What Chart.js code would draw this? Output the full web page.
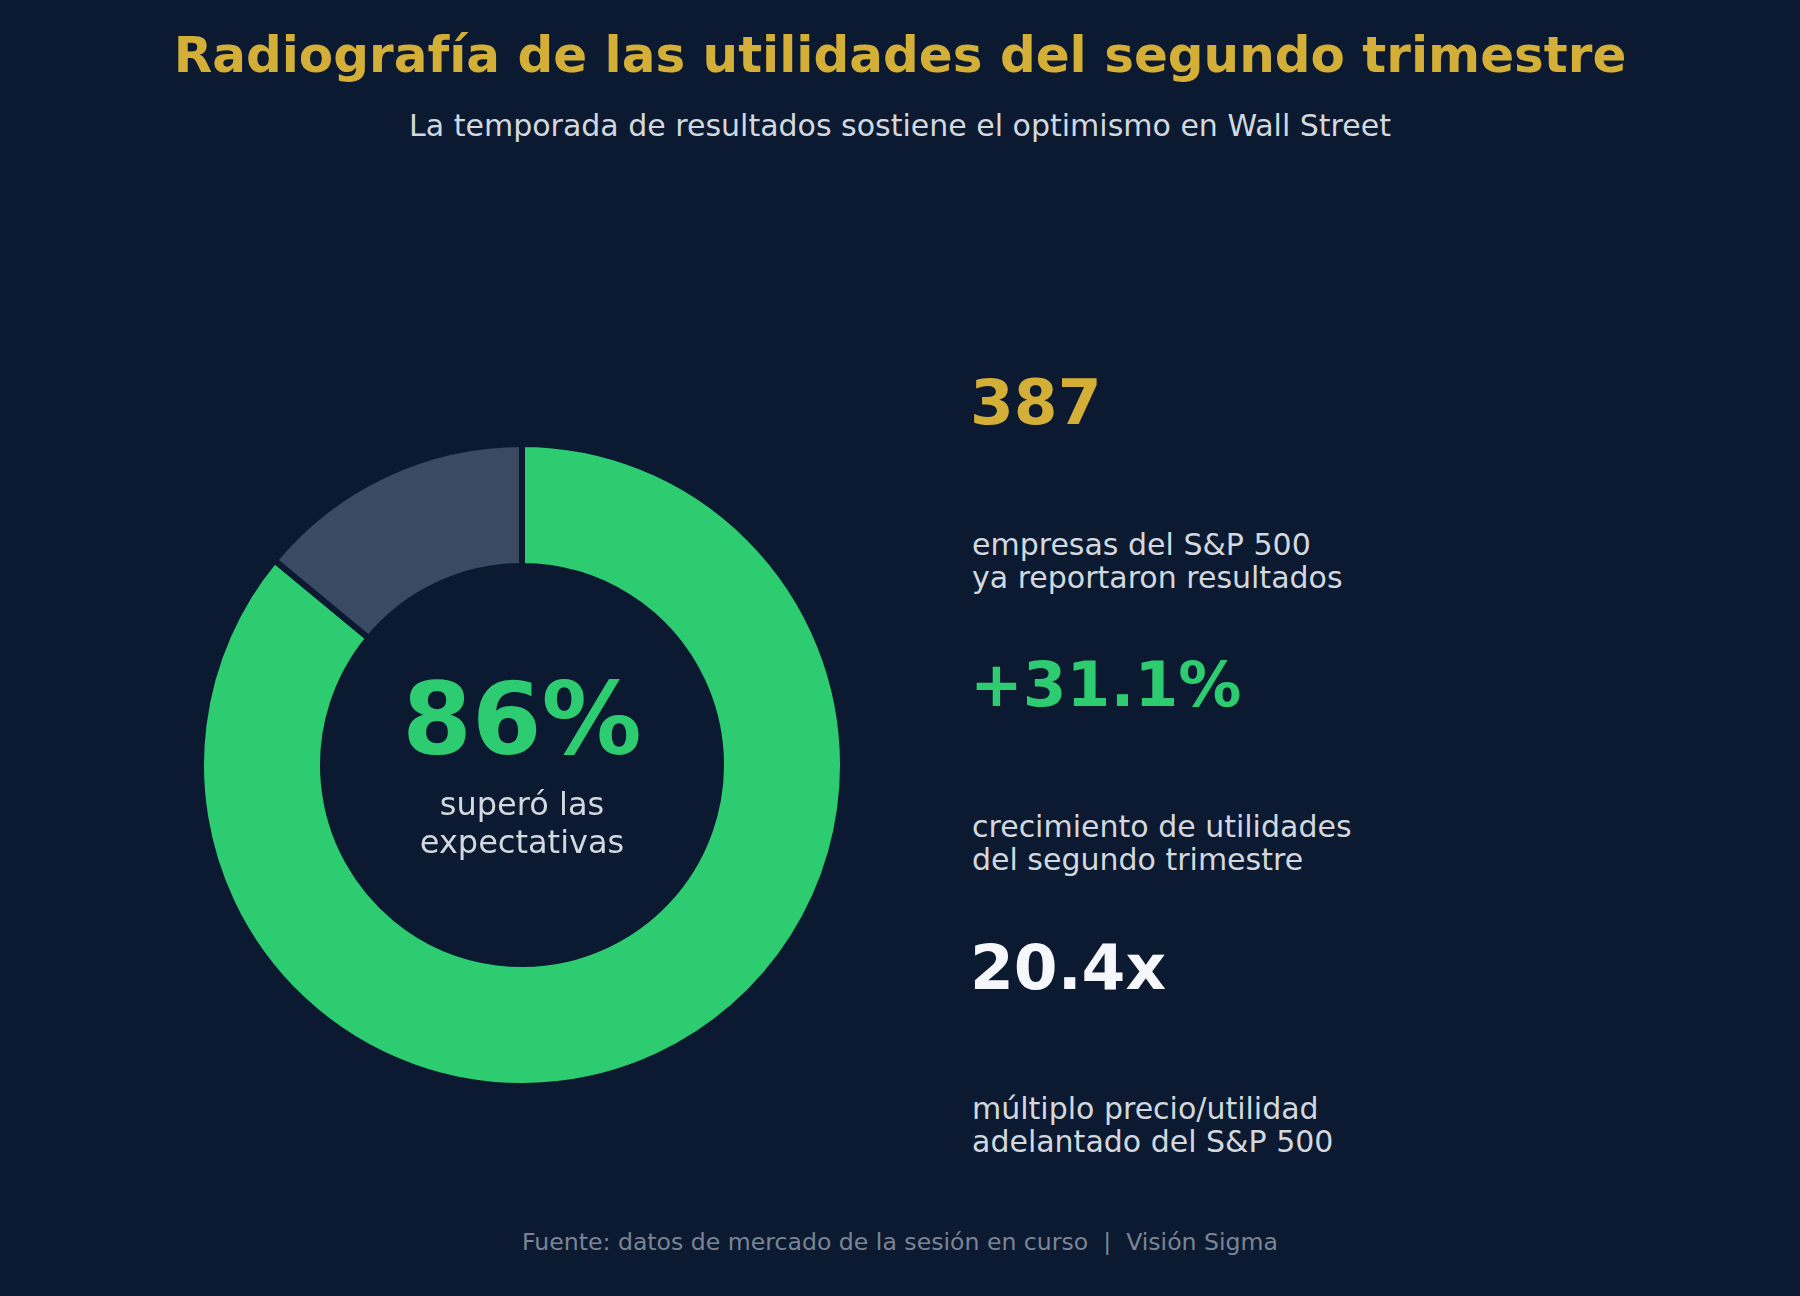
<!DOCTYPE html>
<html>
<head>
<meta charset="utf-8">
<script src="https://cdn.jsdelivr.net/npm/chart.js@4.4.1/dist/chart.umd.min.js"></script>
<style>
  html, body { margin: 0; padding: 0; }
  body { width: 1800px; height: 1296px; background: #0b1a30; position: relative; overflow: hidden;
         font-family: "DejaVu Sans", sans-serif; }
  .t { position: absolute; white-space: nowrap; transform: translateY(-50%); line-height: 1; }
  .c { left: 0; width: 1800px; text-align: center; }
  #wrap { position: absolute; left: 198px; top: 441px; width: 648px; height: 648px; }
  .desc { color: #d3d8df; font-size: 30px; line-height: 33px; left: 972px; }
  .big { font-weight: bold; font-size: 63px; left: 970px; }
</style>
</head>
<body>
<div class="t c" style="top:55px;font-size:50px;font-weight:bold;color:#d4af37;">Radiografía de las utilidades del segundo trimestre</div>
<div class="t c" style="top:126px;font-size:30px;color:#d3d8df;">La temporada de resultados sostiene el optimismo en Wall Street</div>

<div id="wrap"><canvas id="mycanvas"></canvas></div>

<div class="t" style="left:322px;width:400px;text-align:center;top:720px;font-size:100px;font-weight:bold;color:#2ecc71;">86%</div>
<div class="t" style="left:322px;width:400px;text-align:center;top:823px;font-size:32px;line-height:38px;color:#d3d8df;">superó las<br>expectativas</div>

<div id="stats"></div>

<div class="t c" style="top:1243px;font-size:23.6px;color:#7a8494;">Fuente: datos de mercado de la sesión en curso &nbsp;|&nbsp; Visión Sigma</div>

<script>
var labels = ["Superó las expectativas", "No superó"];
var shares = [86, 14];
var colors = ["#2ecc71", "#3b4a63"];

var statValues = ["387", "+31.1%", "20.4x"];
var statColors = ["#d4af37", "#2ecc71", "#f5f7fa"];
var statDescs = [
	["empresas del S&P 500", "ya reportaron resultados"],
	["crecimiento de utilidades", "del segundo trimestre"],
	["múltiplo precio/utilidad", "adelantado del S&P 500"]
];
var statTops = [402, 684, 967];
var descTops = [561, 843, 1125];

var stats = document.getElementById("stats");
for (var i in statValues) {
	var v = document.createElement("div");
	v.className = "t big";
	v.style.top = statTops[i] + "px";
	v.style.color = statColors[i];
	v.textContent = statValues[i];
	stats.appendChild(v);

	var d = document.createElement("div");
	d.className = "t desc";
	d.style.top = descTops[i] + "px";
	d.innerHTML = statDescs[i].map(function(s){ return s.replace("&", "&amp;"); }).join("<br>");
	stats.appendChild(d);
}

var ctx = document.getElementById("mycanvas");
var donut = new Chart(ctx, {
	type: 'doughnut',
	data: {
		labels: labels,
		datasets: [{
			data: shares,
			backgroundColor: colors,
			borderColor: "#0b1a30",
			borderWidth: 6,
			hoverOffset: 0
		}]
	},
	options: {
		responsive: true,
		maintainAspectRatio: false,
		animation: false,
		cutout: '62%',
		layout: { padding: 0 },
		plugins: {
			legend: { display: false },
			tooltip: { enabled: false }
		}
	}
});
</script>
</body>
</html>
